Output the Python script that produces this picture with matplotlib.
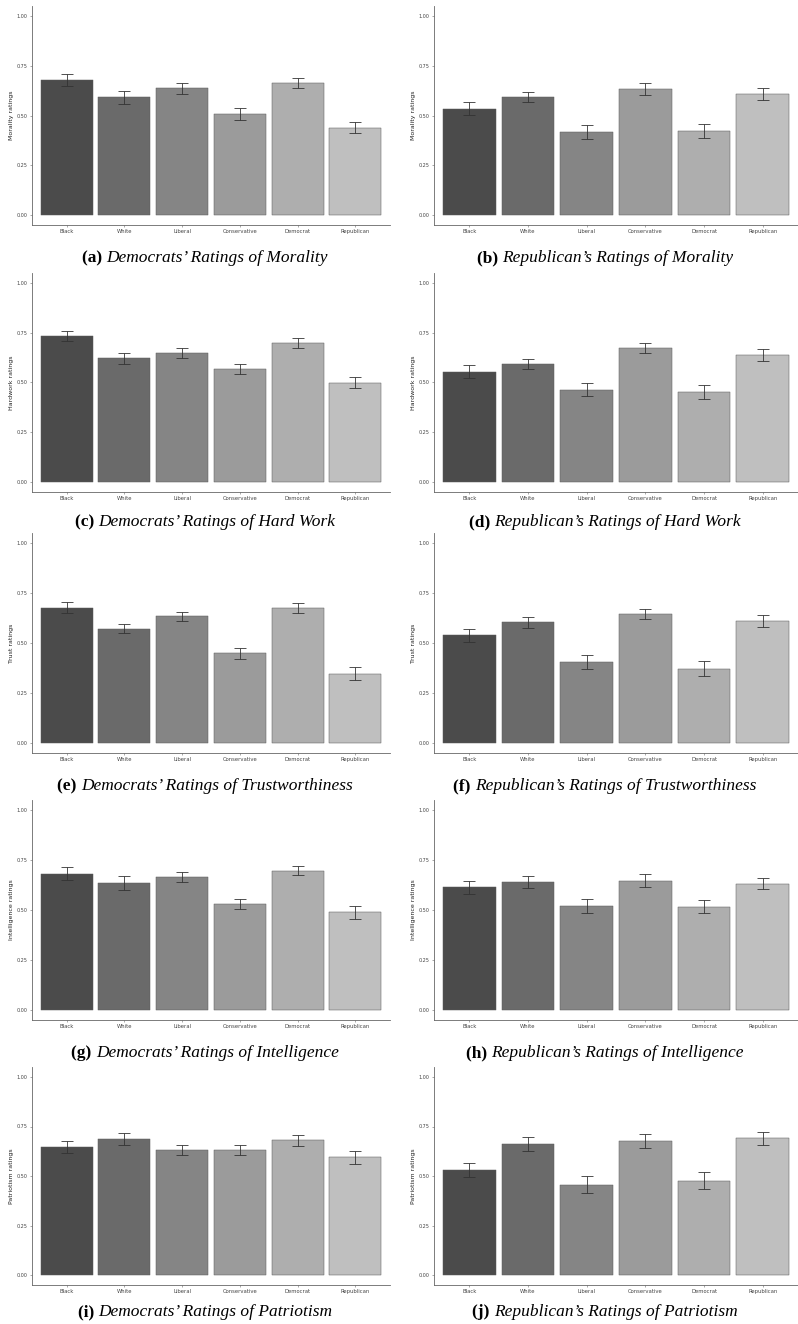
import matplotlib
matplotlib.use("Agg")
import matplotlib.pyplot as plt

# grupos y colores (escala de grises)
groups = ["Black", "White", "Liberal", "Conservative", "Democrat", "Republican"]
bar_colors = ["#4b4b4b", "#6a6a6a", "#858585", "#9b9b9b", "#aeaeae", "#bfbfbf"]

# valores medios
dem_morality = [0.680, 0.591, 0.636, 0.508, 0.664, 0.438]
rep_morality = [0.535, 0.593, 0.417, 0.633, 0.422, 0.607]
dem_hardwork = [0.734, 0.622, 0.647, 0.568, 0.699, 0.499]
rep_hardwork = [0.554, 0.595, 0.464, 0.672, 0.454, 0.638]
dem_trust = [0.677, 0.572, 0.633, 0.448, 0.673, 0.347]
rep_trust = [0.538, 0.603, 0.407, 0.645, 0.372, 0.608]
dem_intel = [0.682, 0.635, 0.665, 0.531, 0.697, 0.489]
rep_intel = [0.613, 0.640, 0.520, 0.646, 0.517, 0.631]
dem_patriot = [0.648, 0.685, 0.631, 0.631, 0.680, 0.594]
rep_patriot = [0.530, 0.661, 0.457, 0.676, 0.477, 0.690]

# errores estandar (semi-ancho de las barras de error)
dem_morality_err = [0.030, 0.031, 0.028, 0.029, 0.024, 0.027]
rep_morality_err = [0.032, 0.025, 0.035, 0.030, 0.035, 0.030]
dem_hardwork_err = [0.026, 0.028, 0.024, 0.025, 0.024, 0.029]
rep_hardwork_err = [0.032, 0.025, 0.034, 0.025, 0.035, 0.029]
dem_trust_err = [0.028, 0.023, 0.024, 0.027, 0.025, 0.033]
rep_trust_err = [0.032, 0.029, 0.035, 0.025, 0.036, 0.030]
dem_intel_err = [0.031, 0.033, 0.023, 0.026, 0.024, 0.033]
rep_intel_err = [0.033, 0.030, 0.034, 0.032, 0.034, 0.027]
dem_patriot_err = [0.030, 0.030, 0.026, 0.027, 0.027, 0.031]
rep_patriot_err = [0.035, 0.034, 0.042, 0.036, 0.041, 0.033]

ylabels = ["Morality ratings", "Hardwork ratings", "Trust ratings",
           "Intelligence ratings", "Patriotism ratings"]
traits = ["Morality", "Hard Work", "Trustworthiness", "Intelligence", "Patriotism"]
yticks = [0.00, 0.25, 0.50, 0.75, 1.00]

panels = [
    (dem_morality, dem_morality_err, rep_morality, rep_morality_err),
    (dem_hardwork, dem_hardwork_err, rep_hardwork, rep_hardwork_err),
    (dem_trust, dem_trust_err, rep_trust, rep_trust_err),
    (dem_intel, dem_intel_err, rep_intel, rep_intel_err),
    (dem_patriot, dem_patriot_err, rep_patriot, rep_patriot_err),
]

W, H = 798, 1324
fig = plt.figure(figsize=(W / 100, H / 100), dpi=100)

# posiciones en pixeles (y de 1.00, y de 0.00) y del pie de cada fila
row_pix = [(16, 215), (283, 482), (543, 743), (810, 1010), (1077, 1275)]
caption_y = [258, 522, 786, 1053, 1312]
col_x = [(32, 390), (434, 798)]
letters = "abcdefghij"


def draw_panel(x0, x1, y1, y0, vals, errs, ylabel):
    span = y0 - y1
    top = y1 - 0.05 * span
    bottom = y0 + 0.05 * span
    ax = fig.add_axes([x0 / W, 1 - bottom / H, (x1 - x0) / W, (bottom - top) / H])
    xs = range(len(groups))
    ax.bar(xs, vals, width=0.9, color=bar_colors, edgecolor="#5a5a5a", linewidth=0.35)
    ax.errorbar(xs, vals, yerr=errs, fmt="none", ecolor="#333333",
                elinewidth=0.6, capsize=4, capthick=0.6)
    ax.set_xlim(-0.6, 5.6)
    ax.set_ylim(-0.05, 1.05)
    ax.set_yticks(yticks)
    ax.set_yticklabels(["%.2f" % t for t in yticks], fontsize=3.5, color="#444444")
    ax.set_xticks(list(xs))
    ax.set_xticklabels(groups, fontsize=3.8, color="#444444")
    ax.set_ylabel(ylabel, fontsize=4.5, labelpad=2, color="#222222")
    for s in ["top", "right"]:
        ax.spines[s].set_visible(False)
    for s in ["left", "bottom"]:
        ax.spines[s].set_color("#666666")
        ax.spines[s].set_linewidth(0.6)
    ax.tick_params(length=1.5, width=0.4, color="#666666", pad=1.5)
    return ax


def caption(cx, cy, letter, text):
    serif = "Liberation Serif"
    t1 = fig.text(0, 1 - cy / H, "(%s) " % letter, fontsize=12.5, fontweight="bold",
                  family=serif, va="center", ha="left")
    t2 = fig.text(0, 1 - cy / H, text, fontsize=12.5, style="italic",
                  family=serif, va="center", ha="left")
    r = fig.canvas.get_renderer()
    w1 = t1.get_window_extent(r).width
    w2 = t2.get_window_extent(r).width
    start = cx - (w1 + w2) / 2
    t1.set_x(start / W)
    t2.set_x((start + w1) / W)


for i, (dv, de, rv, re) in enumerate(panels):
    y1, y0 = row_pix[i]
    draw_panel(col_x[0][0], col_x[0][1], y1, y0, dv, de, ylabels[i])
    draw_panel(col_x[1][0], col_x[1][1], y1, y0, rv, re, ylabels[i])
    caption(205, caption_y[i], letters[2 * i], "Democrats\u2019 Ratings of " + traits[i])
    caption(605, caption_y[i], letters[2 * i + 1], "Republican\u2019s Ratings of " + traits[i])

fig.savefig("out.png", dpi=100)
